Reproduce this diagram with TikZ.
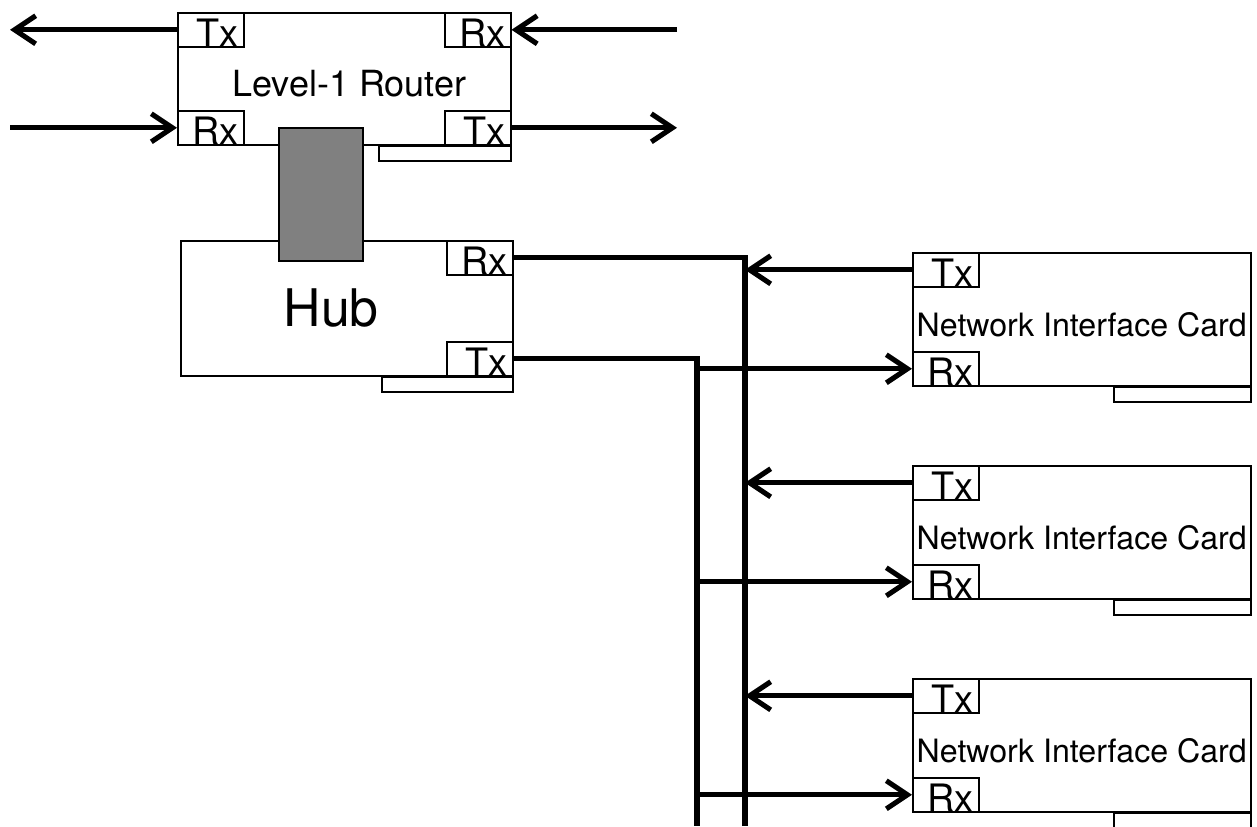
\documentclass[tikz,border=0pt]{standalone}
\usepackage{fontspec}
\setmainfont{TeX Gyre Heros}
\usetikzlibrary{arrows.meta}

\begin{document}
\begin{tikzpicture}[x=0.02cm,y=-0.02cm,
  box/.style={draw,line width=0.9pt,inner sep=0pt,anchor=north west},
  port/.style={draw,line width=0.9pt,inner sep=0pt,minimum width=1.32cm,text width=1.12cm,align=right,
    text height=0.68cm,text depth=0pt,font=\fontsize{21.5}{23}\selectfont},
  tab/.style={draw,line width=0.9pt,inner sep=0pt,minimum width=2.64cm,minimum height=0.29cm,anchor=north east},
  wire/.style={line width=2.9pt},
  sig/.style={wire,-{Straight Barb[length=12pt,width=16pt]}}]
\useasboundingbox (0,0) rectangle (1257,826);
\coordinate (farW) at (10,0);
\coordinate (farE) at (677,0);
\coordinate (busT) at (697,826);
\coordinate (busR) at (745,826);
% level-1 router
\node[box,minimum width=6.66cm,minimum height=2.64cm,text height=20pt,text depth=0pt,
  font=\fontsize{20.5}{22}\selectfont] (router) at (177,12) {\hspace{0.2cm}Level-1 Router};
\node[port,anchor=north west] (rtx1) at (router.north west) {Tx};
\node[port,anchor=north east] (rrx1) at (router.north east) {Rx};
\node[port,anchor=south west] (rrx2) at (router.south west) {Rx};
\node[port,anchor=south east] (rtx2) at (router.south east) {Tx};
\node[tab] (rtab) at (router.south east) {};
\draw[sig] (rtx1.west) -- (rtx1.west -| farW);
\draw[sig] (rrx1.east -| farE) -- (rrx1.east);
\draw[sig] (rrx2.west -| farW) -- (rrx2.west);
\draw[sig] (rtx2.east) -- (rtx2.east -| farE);
% hub
\node[box,minimum width=6.64cm,minimum height=2.7cm,font=\fontsize{29.5}{32}\selectfont] (hub) at (180,240) {Hub\rule{0.62cm}{0pt}};
\node[port,anchor=north east] (hrx) at (hub.north east) {Rx};
\node[port,anchor=south east] (htx) at (hub.south east) {Tx};
\node[tab,minimum width=2.62cm] (htab) at (hub.south east) {};
\node[draw,fill=black!50,line width=0.9pt,minimum width=1.68cm,minimum height=2.66cm,anchor=north west] (link) at (278,127) {};
\draw[wire] (hrx.east) -| (busR);
\draw[wire] (htx.east) -| (busT);
% network interface cards
\foreach \i/\y in {1/252,2/465,3/678}{
  \node[box,minimum width=6.76cm,minimum height=2.66cm,text height=20pt,text depth=0pt,
    font=\fontsize{18.3}{20}\selectfont] (nic\i) at (912,\y) {Network Interface Card};
  \node[port,anchor=north west] (ntx\i) at (nic\i.north west) {Tx};
  \node[port,anchor=south west] (nrx\i) at (nic\i.south west) {Rx};
  \node[tab,minimum width=2.74cm] (ntab\i) at (nic\i.south east) {};
  \draw[sig] (ntx\i.west) -- (ntx\i.west -| busR);
  \draw[sig] (nrx\i.west -| busT) -- (nrx\i.west);
}
\end{tikzpicture}
\end{document}
